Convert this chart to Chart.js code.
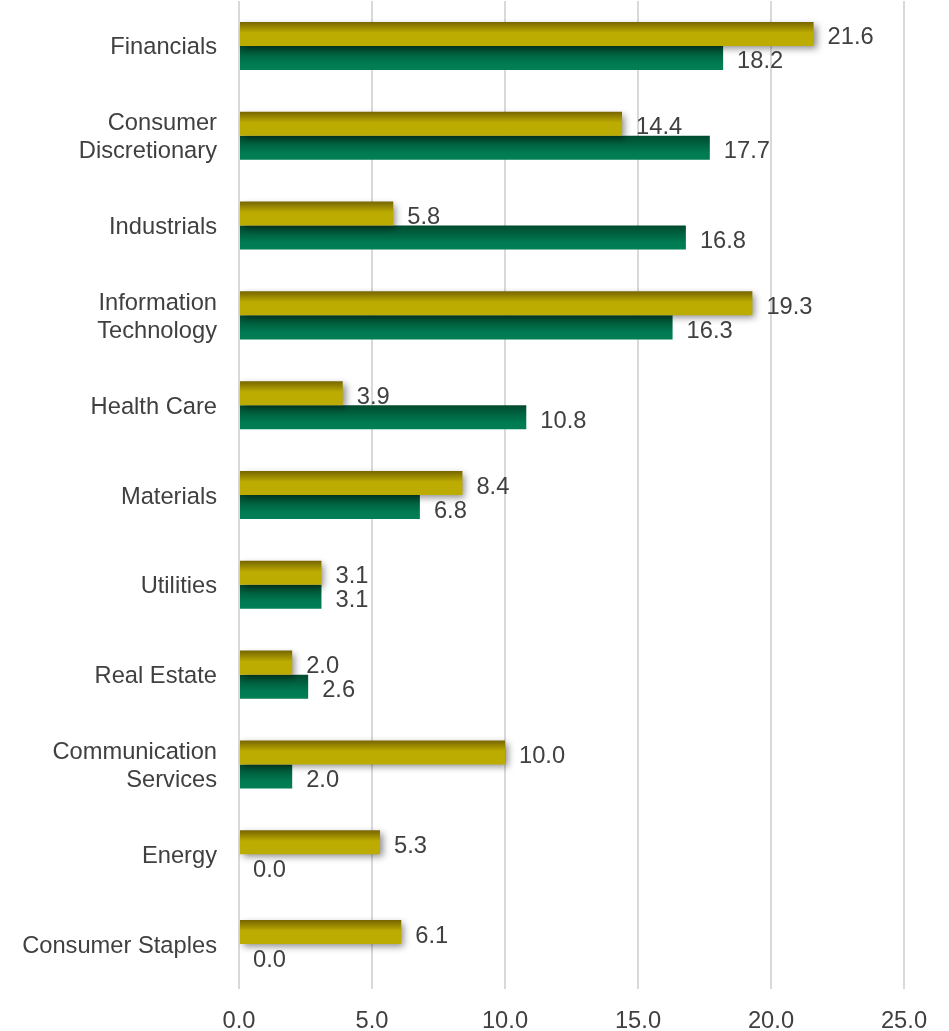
<!DOCTYPE html>
<html lang="en">
<head>
    <meta charset="UTF-8">
    <title>Sector Weights</title>
    <script src="https://cdn.jsdelivr.net/npm/chart.js"></script>
    <style>
        body { margin: 0; background: #ffffff; }
        #chart-box { width: 949px; height: 1031px; }
    </style>
</head>
<body>
    <div id="chart-box">
        <canvas id="sectorChart" width="949" height="1031"></canvas>
    </div>

    <script>
        // sector names (multi-line where the label wraps)
        var sectors = [
            'Financials',
            ['Consumer', 'Discretionary'],
            'Industrials',
            ['Information', 'Technology'],
            'Health Care',
            'Materials',
            'Utilities',
            'Real Estate',
            ['Communication', 'Services'],
            'Energy',
            'Consumer Staples'
        ];

        var portfolioWeights = [21.6, 14.4, 5.8, 19.3, 3.9, 8.4, 3.1, 2.0, 10.0, 5.3, 6.1];
        var indexWeights     = [18.2, 17.7, 16.8, 16.3, 10.8, 6.8, 3.1, 2.6, 2.0, 0.0, 0.0];

        var axisTicks = [0, 5, 10, 15, 20, 25];

        var textColor = '#404040';
        var fontFamily = '"Liberation Sans", Arial, sans-serif';
        var fontSize = 23.7;

        // top-to-bottom gradient stops for each series
        var barShades = [
            [[0, '#766500'], [0.45, '#bcab00'], [1, '#bcab00']],
            [[0, '#004a2e'], [0.7, '#007a52'], [1, '#007f55']]
        ];

        // paint each bar with its own vertical gradient, shadow under the gold bars
        var barStyle = {
            id: 'barStyle',
            beforeDatasetDraw: function(chart, args) {
                var ctx = chart.ctx;
                var meta = args.meta;
                var stops = barShades[args.index];
                meta.data.forEach(function(bar) {
                    var top = bar.y - bar.height / 2;
                    var g = ctx.createLinearGradient(0, top, 0, top + bar.height);
                    stops.forEach(function(s) { g.addColorStop(s[0], s[1]); });
                    bar.options.backgroundColor = g;
                });
                ctx.save();
                if (args.index === 0) {
                    ctx.shadowColor = 'rgba(0, 0, 0, 0.45)';
                    ctx.shadowBlur = 7;
                    ctx.shadowOffsetX = 3;
                    ctx.shadowOffsetY = 3;
                }
            },
            afterDatasetDraw: function(chart) {
                chart.ctx.restore();
            }
        };

        // value labels to the right of each bar end
        var valueLabels = {
            id: 'valueLabels',
            afterDatasetsDraw: function(chart) {
                var ctx = chart.ctx;
                ctx.save();
                ctx.font = fontSize + 'px ' + fontFamily;
                ctx.fillStyle = textColor;
                ctx.textAlign = 'left';
                ctx.textBaseline = 'middle';
                chart.data.datasets.forEach(function(ds, i) {
                    chart.getDatasetMeta(i).data.forEach(function(bar, j) {
                        ctx.fillText(ds.data[j].toFixed(1), bar.x + 14, bar.y + 4);
                    });
                });
                ctx.restore();
            }
        };

        var ctx = document.getElementById('sectorChart').getContext('2d');
        var sectorChart = new Chart(ctx, {
            type: 'bar',
            data: {
                labels: sectors,
                datasets: [{
                    label: 'Portfolio',
                    data: portfolioWeights,
                    backgroundColor: function() { return '#bcab00'; },
                    categoryPercentage: 0.535,
                    barPercentage: 1.0
                }, {
                    label: 'Index',
                    data: indexWeights,
                    backgroundColor: function() { return '#007f55'; },
                    categoryPercentage: 0.535,
                    barPercentage: 1.0
                }]
            },
            options: {
                indexAxis: 'y',
                responsive: false,
                animation: false,
                layout: {
                    padding: { top: 1, right: 45, bottom: 0, left: 0 }
                },
                plugins: {
                    legend: { display: false },
                    tooltip: { enabled: false }
                },
                scales: {
                    x: {
                        min: 0,
                        max: 25,
                        afterBuildTicks: function(scale) {
                            scale.ticks = axisTicks.map(function(v) { return { value: v }; });
                        },
                        afterFit: function(scale) {
                            scale.height = 42;
                            scale.paddingLeft = 0;
                            scale.paddingRight = 0;
                        },
                        grid: {
                            color: '#d9d9d9',
                            lineWidth: 2,
                            drawTicks: false
                        },
                        border: { display: false },
                        ticks: {
                            padding: 18,
                            color: textColor,
                            font: { family: fontFamily, size: fontSize, lineHeight: 1.2 },
                            callback: function(v) { return Number(v).toFixed(1); }
                        }
                    },
                    y: {
                        afterFit: function(scale) {
                            scale.width = 239;
                            scale.paddingTop = 0;
                            scale.paddingBottom = 0;
                        },
                        grid: { display: false, drawTicks: false },
                        border: { display: false },
                        ticks: {
                            padding: 22,
                            labelOffset: 2,
                            color: textColor,
                            font: { family: fontFamily, size: fontSize, lineHeight: 1.18 }
                        }
                    }
                }
            },
            plugins: [barStyle, valueLabels]
        });
    </script>
</body>
</html>
